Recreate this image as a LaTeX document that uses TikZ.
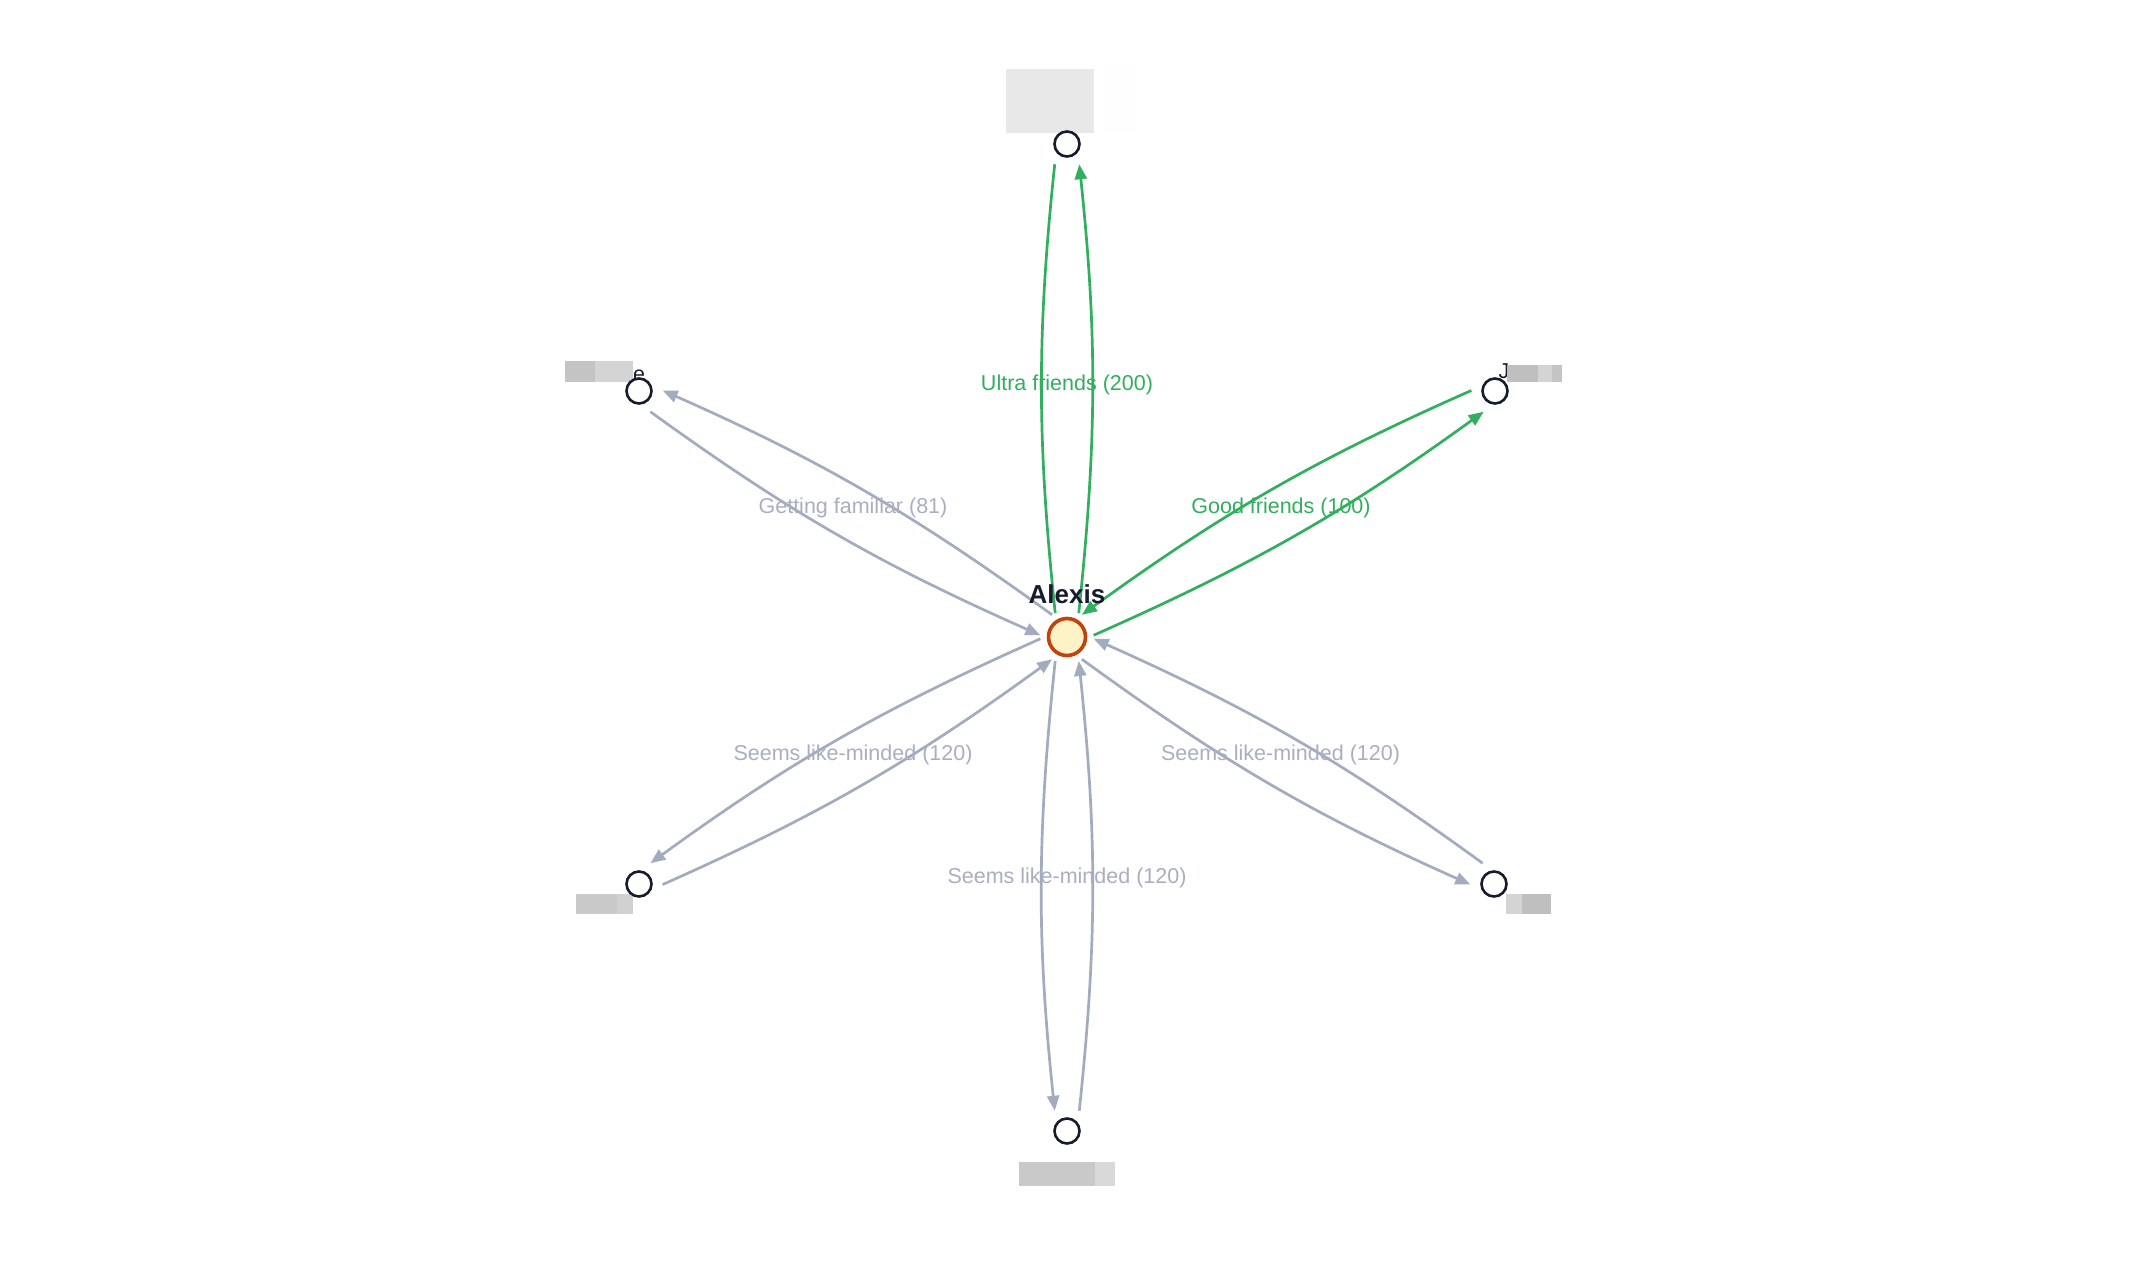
\documentclass[tikz,border=0pt]{standalone}
\usepackage{fontspec}
\setmainfont{Liberation Sans}
\usetikzlibrary{arrows.meta}
\definecolor{grn}{HTML}{31AE5E}
\definecolor{edgegray}{HTML}{A3ABBE}
\definecolor{labgray}{HTML}{A9AEC0}
\definecolor{ink}{HTML}{161B2E}
\definecolor{alexline}{HTML}{C2410C}
\definecolor{alexfill}{HTML}{FEF3C7}
\begin{document}
\begin{tikzpicture}[x=1pt,y=-1pt,
  outernode/.style={circle,draw=ink,fill=white,line width=2.6pt,minimum size=25pt,inner sep=0pt},
  focusnode/.style={circle,draw=alexline,fill=alexfill,line width=3.6pt,minimum size=37pt,inner sep=0pt},
  tip/.style={-{Triangle[length=15pt,width=12pt]}},
  fromc/.style={line width=2.7pt,bend right=6,shorten <=7pt,shorten >=12pt,tip},
  toc/.style={line width=2.7pt,bend right=6,shorten <=12pt,shorten >=7pt,tip},
  toctip/.style={line width=2.7pt,bend right=6,shorten <=12pt,shorten >=7pt},
  elabel/.style={font=\fontsize{21.5}{26}\selectfont,inner sep=0pt,yshift=6pt,pos=0.5},
  namefont/.style={font=\fontsize{21.5}{26}\selectfont,text=ink,inner sep=0pt,anchor=base west},
]
\useasboundingbox (0,0) rectangle (2156,1266);

% redacted name boxes
\fill[fill=white!99.6!black] (1104,65) rectangle (1135,133);
\fill[fill=black!9] (1006,69) rectangle (1094,133);

\fill[fill=black!23] (565,361) rectangle (595,382);
\fill[fill=black!17] (595,361) rectangle (633,382);
\node[namefont] (ulname) at (633,381) {e};

\node[namefont] (urname) at (1498.5,378) {J};
\fill[fill=black!25] (1507,365) rectangle (1538,382);
\fill[fill=black!17] (1538,365) rectangle (1552,382);
\fill[fill=black!23] (1552,365) rectangle (1562,382);

\fill[fill=black!21] (576,894) rectangle (617,914);
\fill[fill=black!18] (617,894) rectangle (633,914);

\fill[fill=black!17] (1506,894) rectangle (1522,914);
\fill[fill=black!25] (1522,894) rectangle (1551,914);

\fill[fill=black!21] (1019,1162) rectangle (1095,1186);
\fill[fill=black!15] (1095,1162) rectangle (1115,1186);

% nodes
\node[focusnode] (alexis) at (1067,637) {};
\node[outernode] (top) at (1067,144) {};
\node[outernode] (ul) at (639,391) {};
\node[outernode] (ur) at (1495,391) {};
\node[outernode] (ll) at (639,884) {};
\node[outernode] (lr) at (1494,884) {};
\node[outernode] (bot) at (1067,1131) {};

% top pair (green)
\draw[fromc,draw=grn] (alexis.57) to (top.323);
\draw[toctip,draw=grn] (top.217) to (alexis.123);
% upper right pair (green)
\draw[fromc,draw=grn] (alexis.357) to (ur.263);
\draw[toc,draw=grn] (ur.157) to (alexis.63);
% upper left pair
\draw[fromc,draw=edgegray] (alexis.117) to (ul.23);
\draw[toc,draw=edgegray] (ul.277) to (alexis.183);
% lower left pair
\draw[fromc,draw=edgegray] (alexis.177) to (ll.83);
\draw[toc,draw=edgegray] (ll.337) to (alexis.243);
% bottom pair
\draw[fromc,draw=edgegray] (alexis.237) to (bot.143);
\draw[toc,draw=edgegray] (bot.37) to (alexis.303);
% lower right pair
\draw[fromc,draw=edgegray] (alexis.297) to (lr.203);
\draw[toc,draw=edgegray] (lr.97) to (alexis.3);

% edge labels
\path (alexis.center) -- node[elabel,text=grn] (ltop) {Ultra friends (200)} (top.center);
\path (alexis.center) -- node[elabel,text=grn] (lur) {Good friends (100)} (ur.center);
\path (alexis.center) -- node[elabel,text=labgray] (lul) {Getting familiar (81)} (ul.center);
\path (alexis.center) -- node[elabel,text=labgray] (lll) {Seems like-minded (120)} (ll.center);
\path (alexis.center) -- node[elabel,text=labgray] (llr) {Seems like-minded (120)} (lr.center);
\path (alexis.center) -- node[elabel,text=labgray] (lbot) {Seems like-minded (120)} (bot.center);

% focus label
\node[font=\bfseries\fontsize{26}{30}\selectfont,text=ink,anchor=base,inner sep=0pt] (alexlabel) at (1067,603) {Alexis};
\end{tikzpicture}
\end{document}
